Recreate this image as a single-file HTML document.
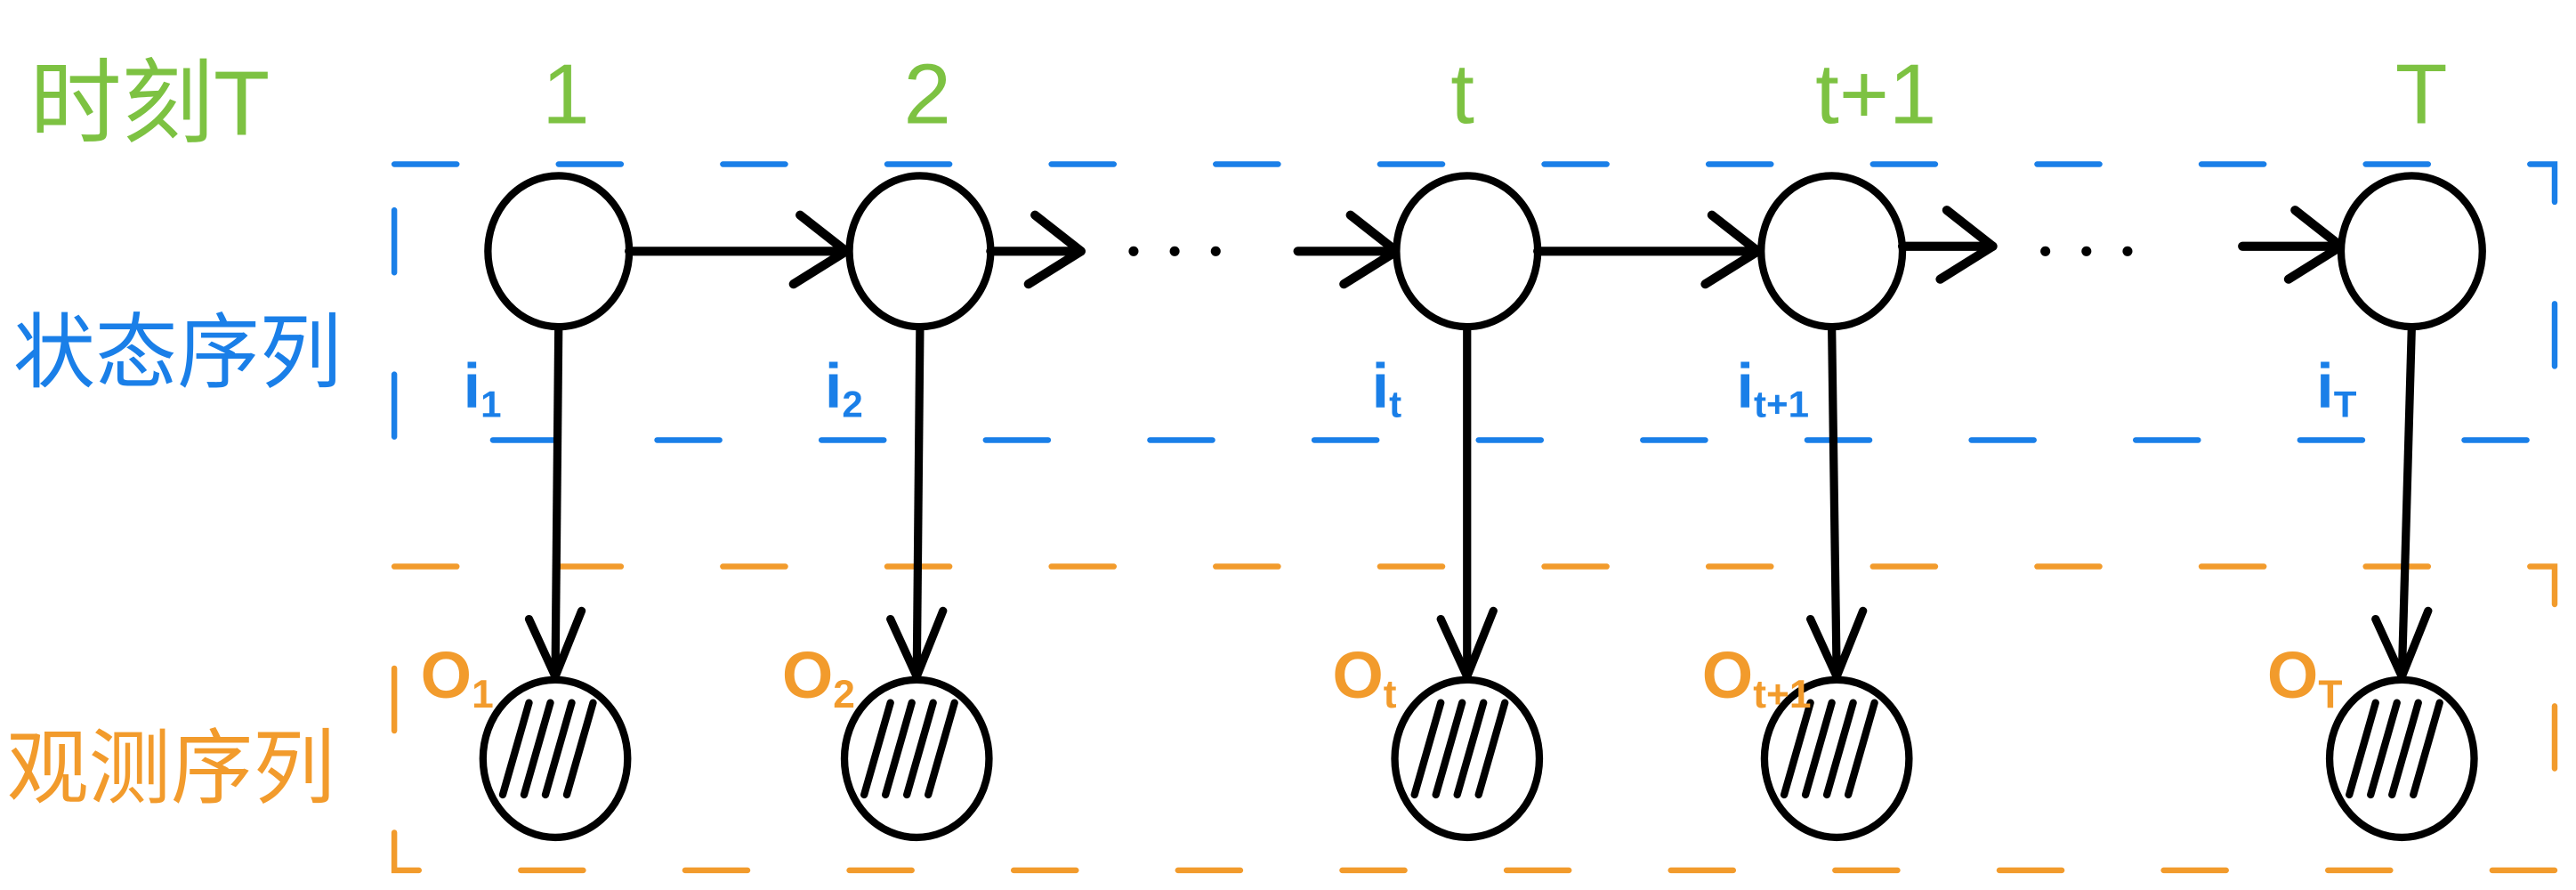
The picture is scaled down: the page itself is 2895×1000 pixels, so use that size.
<!DOCTYPE html>
<html><head><meta charset="utf-8"><style>
html,body{margin:0;padding:0;background:#fff;}
svg{display:block;}
text{font-family:"Liberation Sans","Noto Sans CJK SC",sans-serif;}
</style></head><body>
<svg id="chart" width="2895" height="1000" viewBox="0 0 1568 542" preserveAspectRatio="none" xmlns="http://www.w3.org/2000/svg">
<rect x="240" y="100" width="1315" height="168" fill="none" stroke="#1a7fe8" stroke-width="3.5" stroke-dasharray="38 62" stroke-linecap="round"/>
<rect x="240" y="345" width="1315" height="185" fill="none" stroke="#f29b2c" stroke-width="3.5" stroke-dasharray="38 62" stroke-linecap="round"/>
<text x="18" y="82" font-size="56" fill="#7dc242">时刻T</text>
<text x="8" y="232" font-size="50" fill="#1a7fe8">状态序列</text>
<text x="4" y="485" font-size="50" fill="#f29b2c">观测序列</text>
<g id="nodes"></g>
</svg>
<script>
const timeLabels = ["1", "2", "t", "t+1", "T"];
const stateSubs = ["1", "2", "t", "t+1", "T"];
const obsSubs = ["1", "2", "t", "t+1", "T"];
const stateX = [340, 560, 893, 1115, 1468];
const obsX = [338, 558, 893, 1118, 1462];
const hasDots = [false, true, false, true, false];
const NS = "http://www.w3.org/2000/svg";
const g = document.getElementById("nodes");
function mk(tag, attrs, parent) {
  const e = document.createElementNS(NS, tag);
  for (const k in attrs) e.setAttribute(k, attrs[k]);
  (parent || g).appendChild(e);
  return e;
}
function subLabel(x, y, base, sub, size, color, name) {
  const t = mk("text", {x: x, y: y, "font-size": size, "font-weight": "bold", fill: color});
  
  
  const b = mk("tspan", {}, t);
  b.textContent = base;
  const s = mk("tspan", {dy: 6, "font-size": size * 0.6}, t);
  s.textContent = sub;
  return t;
}
const SY = 153, OY = 462;
for (let i = 0; i < timeLabels.length; i++) {
  const sx = stateX[i], ox = obsX[i];
  const t = mk("text", {x: sx - 10, y: 75, "font-size": 52, fill: "#7dc242"});
  
  
  t.textContent = timeLabels[i];
  const c = mk("ellipse", {cx: sx, cy: SY, rx: 43, ry: 46, fill: "#fff", stroke: "#000", "stroke-width": 4.5});
  
  
  subLabel(sx - 58, 248, "i", stateSubs[i], 38, "#1a7fe8", "state-subscript-label");
  const v = mk("path", {d: `M${sx} ${SY + 46} L${ox} ${OY - 50}`, stroke: "#000", "stroke-width": 5, fill: "none"});
  
  
  const vh = mk("path", {d: `M${ox - 16} ${OY - 85} L${ox} ${OY - 50} L${ox + 16} ${OY - 90}`, stroke: "#000", "stroke-width": 5, fill: "none", "stroke-linecap": "round", "stroke-linejoin": "round"});
  
  
  const o = mk("ellipse", {cx: ox, cy: OY, rx: 44, ry: 48, fill: "#fff", stroke: "#000", "stroke-width": 4.5});
  
  
  for (let k = 0; k < 4; k++) {
    const hx = ox - 24 + k * 13;
    const h = mk("line", {x1: hx + 8, y1: OY - 34, x2: hx - 8, y2: OY + 22, stroke: "#000", "stroke-width": 4.5, "stroke-linecap": "round"});
    
    
  }
  subLabel(ox - 82, 425, "O", obsSubs[i], 40, "#f29b2c", "observation-subscript-label");
  if (i < timeLabels.length - 1) {
    const nx = stateX[i + 1];
    let segs;
    if (hasDots[i]) {
      segs = [[sx + 43, sx + 43 + 55], [nx - 43 - 60, nx - 43]];
      for (let d = 0; d < 3; d++) {
        const dot = mk("circle", {cx: sx + 130 + d * 25, cy: SY, r: 3, fill: "#000"});
        
        
      }
    } else {
      segs = [[sx + 43, nx - 45]];
    }
    segs.forEach((s, j) => {
      const y = SY - (i >= 3 ? 3 : 0);
      const a = mk("path", {d: `M${s[0]} ${y} L${s[1]} ${y}`, stroke: "#000", "stroke-width": 5.5, fill: "none", "stroke-linecap": "round"});
      
      
      const ah = mk("path", {d: `M${s[1] - 28} ${y - 22} L${s[1]} ${y} L${s[1] - 32} ${y + 20}`, stroke: "#000", "stroke-width": 5.5, fill: "none", "stroke-linecap": "round", "stroke-linejoin": "round"});
      
      
    });
  }
}
</script>
</body></html>
